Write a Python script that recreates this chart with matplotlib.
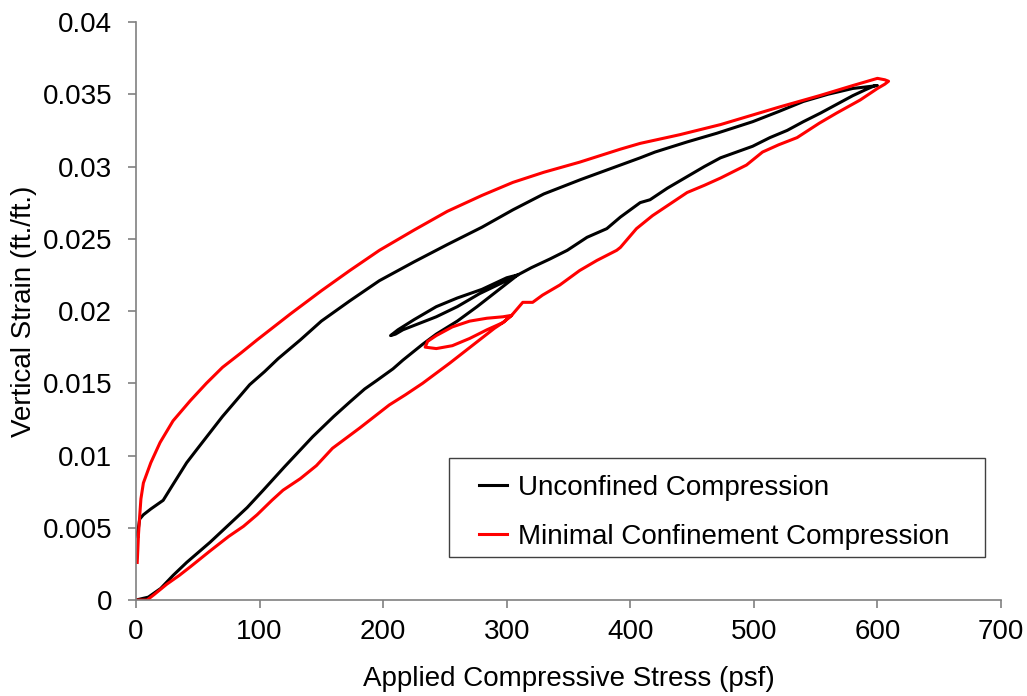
import matplotlib.pyplot as plt
from matplotlib.patches import Rectangle

plt.rcParams['font.family'] = ['Liberation Sans', 'DejaVu Sans']

# Unconfined compression: load -> small unload/reload loop -> peak -> unload
unconf_stress = [0, 10, 20, 30, 41, 60, 75, 90, 103, 120, 143, 160, 173, 185, 195, 208, 216, 232, 243, 260, 276, 297, 309,
                 300, 280, 260, 243, 225, 212, 206, 210,
                 216, 243, 260, 278, 295, 309,
                 320, 335, 349, 365, 381, 392, 408, 416, 430, 446, 460, 473, 486, 499, 513, 527, 540, 554, 567, 580, 590, 598,
                 600, 590, 580, 560, 540, 520, 499, 470, 446, 420, 408, 392, 360, 330, 305, 280, 252, 225, 197, 173, 150, 133,
                 115, 104, 92, 82, 70, 60, 50, 41, 30, 22, 12, 6, 3, 2, 1, 1.5]
unconf_strain = [0, 0.0002, 0.0008, 0.0017, 0.0026, 0.0040, 0.0052, 0.0064, 0.0076, 0.0092, 0.0113, 0.0127, 0.0137, 0.0146,
                 0.0152, 0.0160, 0.0166, 0.0177, 0.0184, 0.0193, 0.0203, 0.0217, 0.0225,
                 0.0223, 0.0215, 0.0209, 0.0203, 0.0194, 0.0187, 0.0183, 0.0184,
                 0.0187, 0.0196, 0.0203, 0.0212, 0.0219, 0.0225,
                 0.0230, 0.0236, 0.0242, 0.0251, 0.0257, 0.0265, 0.0275, 0.0277, 0.0285, 0.0293, 0.0300, 0.0306, 0.0310,
                 0.0314, 0.0320, 0.0325, 0.0331, 0.0337, 0.0343, 0.0349, 0.0353, 0.0356,
                 0.0356, 0.0355, 0.0354, 0.0350, 0.0345, 0.0338, 0.0331, 0.0323, 0.0317, 0.0310, 0.0306, 0.0301, 0.0291,
                 0.0281, 0.0270, 0.0258, 0.0246, 0.0234, 0.0221, 0.0207, 0.0193, 0.0180,
                 0.0167, 0.0158, 0.0149, 0.0139, 0.0127, 0.0116, 0.0105, 0.0095, 0.0080, 0.0069, 0.0063, 0.0059, 0.0056,
                 0.0050, 0.0046, 0.0044]

# Minimal confinement compression
minconf_stress = [0, 9, 15, 25, 35, 44, 60, 75, 87, 98, 110, 119, 133, 146, 159, 170, 181, 193, 205, 218, 232, 243, 254,
                  266, 278, 290, 297, 304,
                  297, 284, 270, 256, 243, 236, 234, 243, 256, 270, 284, 297, 304,
                  313, 321, 329, 343, 359, 373, 389, 392, 405, 418, 432, 446, 460, 473, 494, 507, 520, 535, 553, 567, 586,
                  600, 606, 609,
                  606, 600, 580, 553, 520, 473, 440, 408, 392, 359, 330, 305, 280, 252, 225, 197, 173, 150, 125, 98, 85,
                  70, 57, 44, 30, 19.5, 12, 6, 4, 3, 2, 1.5, 1]
minconf_strain = [0, 0, 0.0004, 0.0011, 0.0017, 0.0023, 0.0034, 0.0044, 0.0051, 0.0059, 0.0069, 0.0076, 0.0084, 0.0093,
                  0.0105, 0.0112, 0.0119, 0.0127, 0.0135, 0.0142, 0.0150, 0.0157, 0.0164, 0.0172, 0.0180, 0.0188,
                  0.0192, 0.0197,
                  0.0196, 0.0195, 0.0193, 0.0189, 0.0183, 0.0179, 0.0175, 0.0174, 0.0176, 0.0181, 0.0187, 0.0192, 0.0197,
                  0.0206, 0.0206, 0.0211, 0.0218, 0.0228, 0.0235, 0.0242, 0.0244, 0.0257, 0.0266, 0.0274, 0.0282, 0.0287,
                  0.0292, 0.0301, 0.0310, 0.0315, 0.0320, 0.0330, 0.0337, 0.0346, 0.0354, 0.0357, 0.0359,
                  0.0360, 0.0361, 0.0356, 0.0349, 0.0341, 0.0329, 0.0322, 0.0316, 0.0312, 0.0303, 0.0296, 0.0289, 0.0280,
                  0.0269, 0.0256, 0.0242, 0.0228, 0.0214, 0.0198, 0.0180, 0.0171, 0.0161, 0.0150, 0.0138, 0.0124,
                  0.0109, 0.0095, 0.0081, 0.0070, 0.0058, 0.0045, 0.0035, 0.0026]

x_ticks = [0, 100, 200, 300, 400, 500, 600, 700]
y_ticks = [0, 0.005, 0.01, 0.015, 0.02, 0.025, 0.03, 0.035, 0.04]

fig = plt.figure(figsize=(10.27, 6.96), dpi=100)
ax = fig.add_axes([0.1324, 0.1379, 0.8423, 0.8305])

ax.plot(unconf_stress, unconf_strain, color='black', lw=2.2, label='Unconfined Compression')
ax.plot(minconf_stress, minconf_strain, color='#ff0000', lw=2.2, label='Minimal Confinement Compression')

ax.set_xlim(0, 700)
ax.set_ylim(0, 0.04)
ax.set_xticks(x_ticks)
ax.set_yticks(y_ticks)
ax.set_xticklabels([f'{v:g}' for v in x_ticks])
ax.set_yticklabels([f'{v:g}' for v in y_ticks])

for s in ['top', 'right']:
    ax.spines[s].set_visible(False)
for s in ['left', 'bottom']:
    ax.spines[s].set_color('#808080')
    ax.spines[s].set_linewidth(1.2)
ax.tick_params(direction='out', length=6, width=1.2, color='#808080', labelsize=20)
ax.tick_params(axis='x', pad=8)
ax.tick_params(axis='y', pad=11)

ax.set_xlabel('Applied Compressive Stress (psf)', fontsize=20, labelpad=15)
ax.set_ylabel('Vertical Strain (ft./ft.)', fontsize=20, labelpad=4)

# legend box drawn separately so its padding matches the original
ax.add_patch(Rectangle((0.3618, 0.0744), 0.6197, 0.1713, transform=ax.transAxes,
                       facecolor='white', edgecolor='#404040', lw=1.0, zorder=4))
leg = ax.legend(loc='upper left', bbox_to_anchor=(0.3965, 0.217), fontsize=20, frameon=False,
                handlelength=1.0, handletextpad=0.4, borderpad=0, labelspacing=0.85, borderaxespad=0)
leg.set_zorder(5)

fig.savefig('out.png', dpi=100)
